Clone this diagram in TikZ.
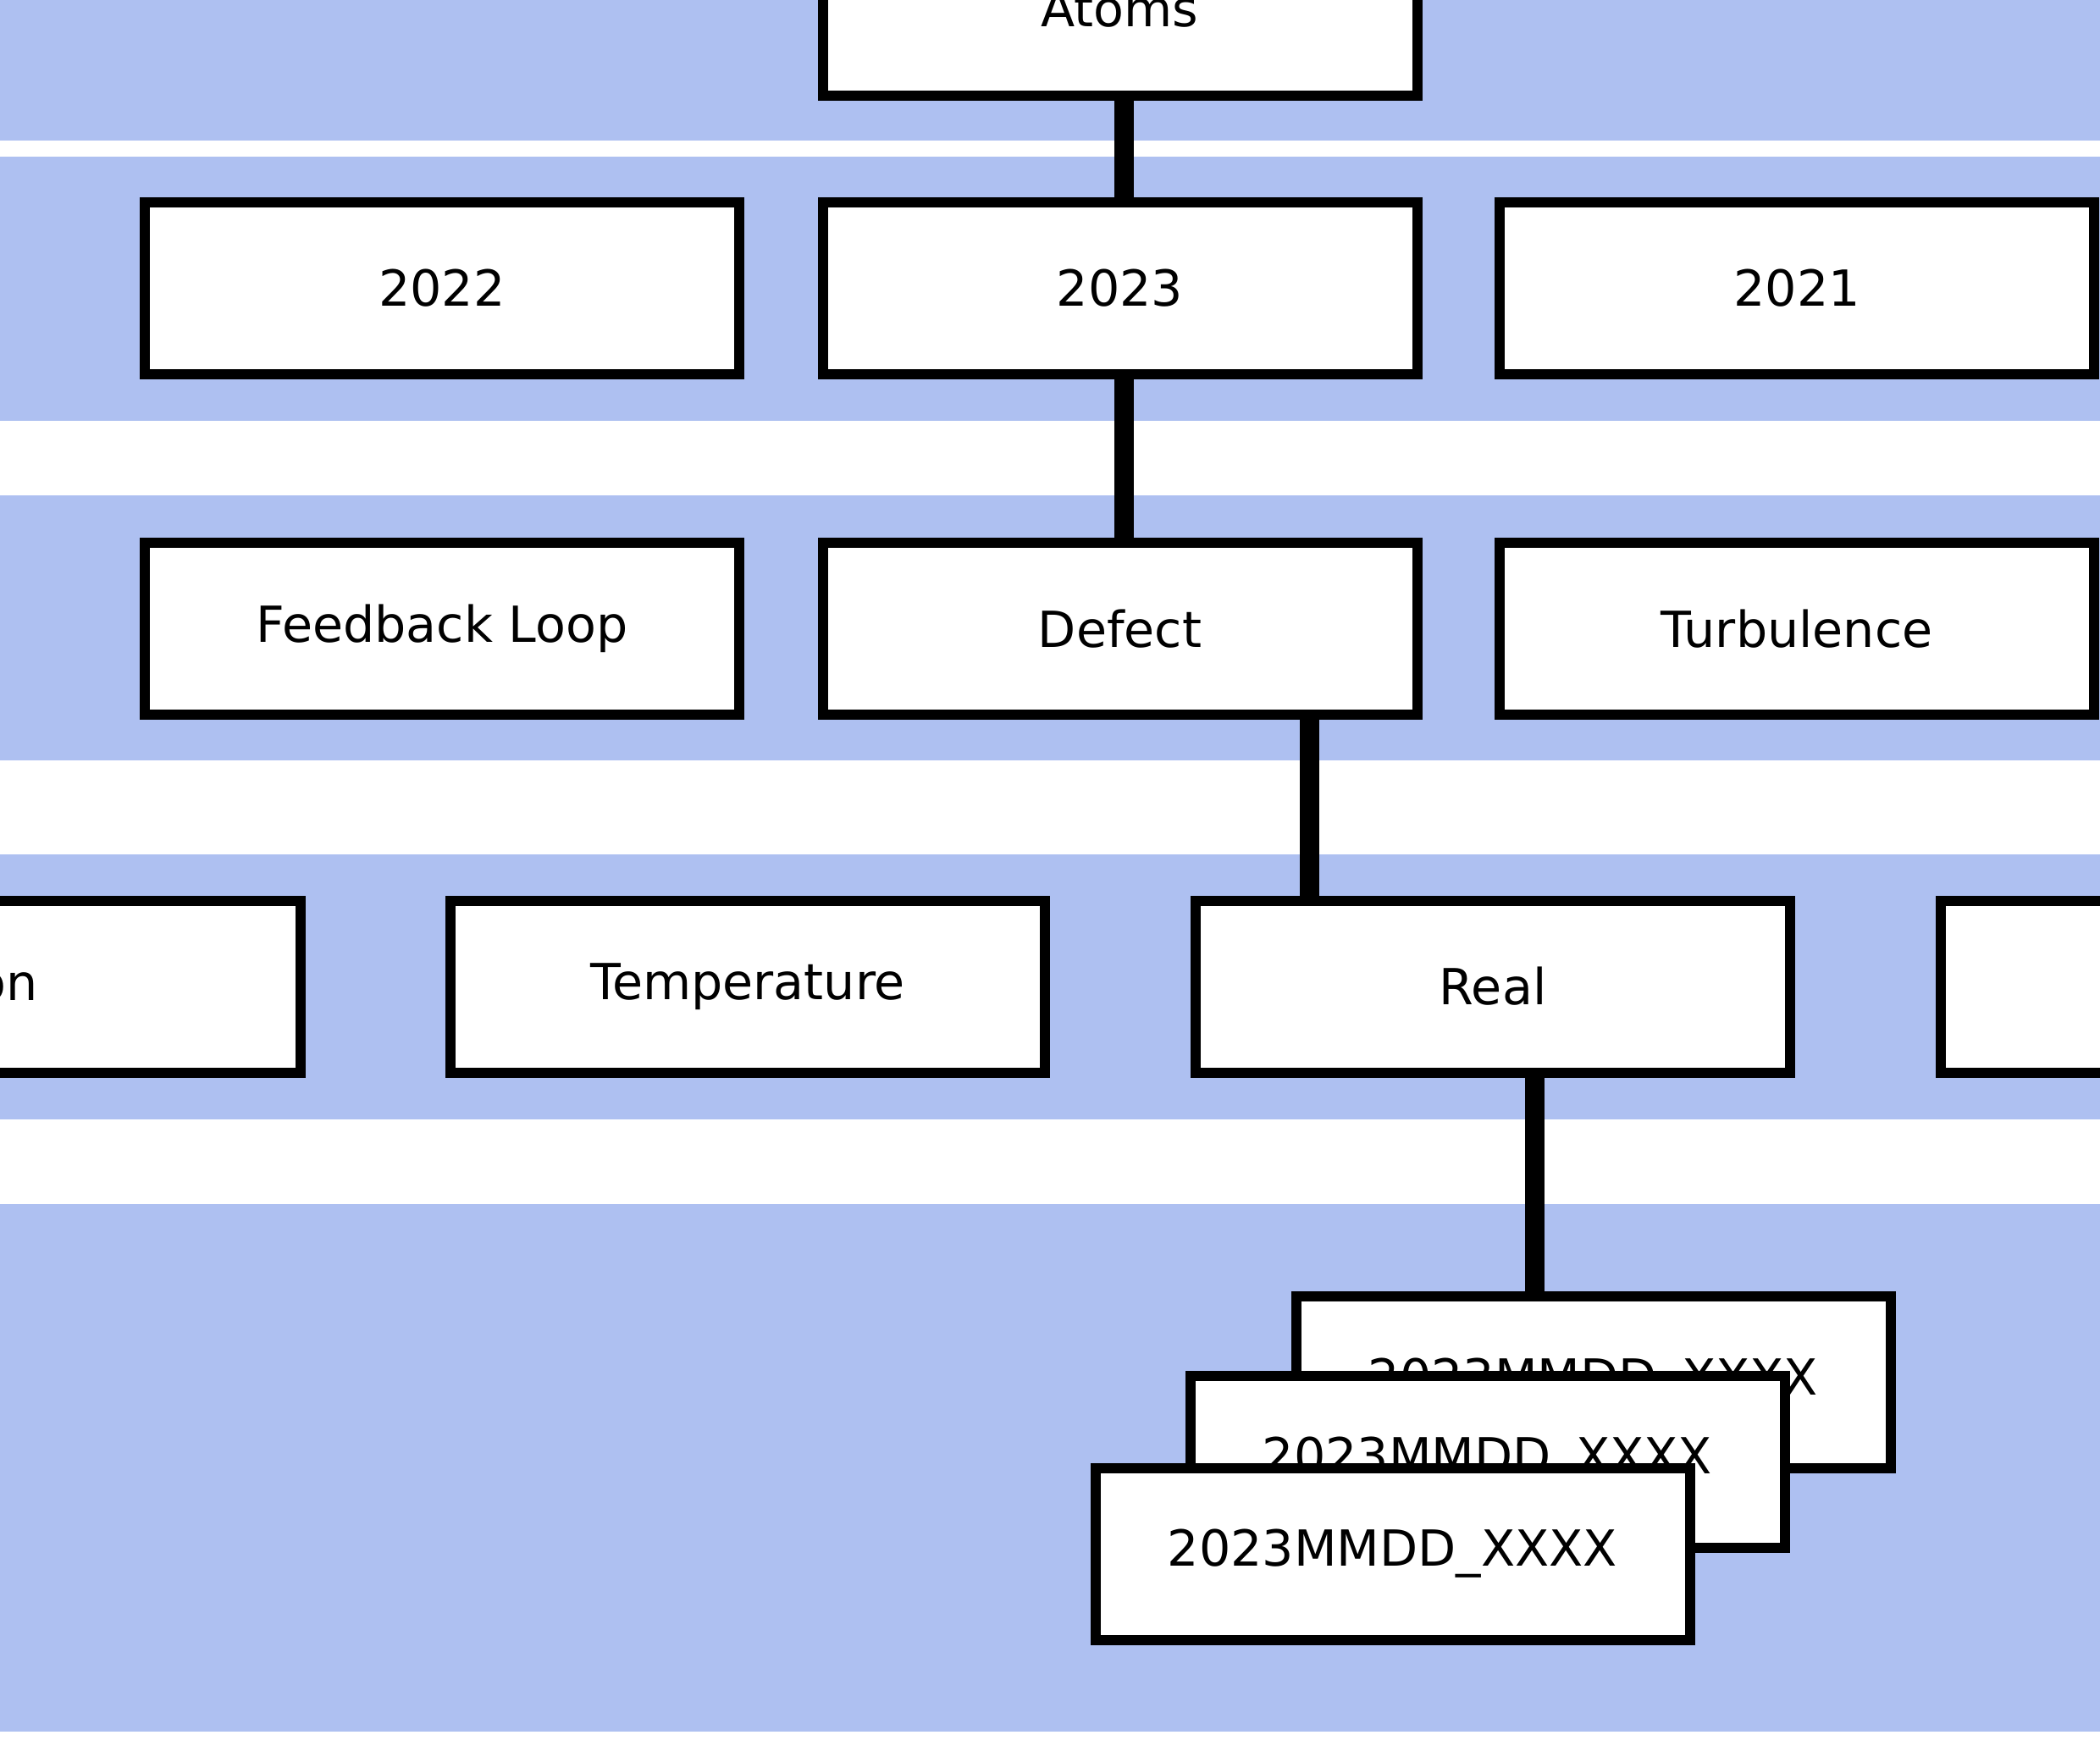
\documentclass[tikz,border=0pt]{standalone}
\usepackage{fontspec}
\setmainfont{DejaVu Sans}
\usepackage{xcolor}
\definecolor{bandblue}{RGB}{174,192,241}

\begin{document}
\begin{tikzpicture}[
    box/.style={draw=black, line width=0.12cm, fill=white, inner sep=0pt,
        minimum width=7.02cm, minimum height=2.03cm,
        font=\fontsize{16.7}{20}\selectfont},
    link/.style={draw=black, line width=0.23cm}
]
    \useasboundingbox (0,0) rectangle (24.8,-20.61);
    \clip (0,0) rectangle (24.8,-20.61);
    % Bands
    \fill[bandblue] (0,0.2) rectangle (24.8,-1.66);
    \fill[bandblue] (0,-1.85) rectangle (24.8,-4.97);
    \fill[bandblue] (0,-5.85) rectangle (24.8,-8.98);
    \fill[bandblue] (0,-10.09) rectangle (24.8,-13.22);
    \fill[bandblue] (0,-14.22) rectangle (24.8,-20.45);
    % Boxes
    \node[box] (atoms) at (13.225,-0.11) {Atoms};
    \node[box] (y2022) at (5.22,-3.405) {2022};
    \node[box] (y2023) at (13.225,-3.405) {2023};
    \node[box] (y2021) at (21.22,-3.405) {2021};
    \node[box] (loop) at (5.22,-7.425) {Feedback Loop};
    \node[box] (defect) at (13.225,-7.425) {Defect};
    \node[box] (turb) at (21.22,-7.425) {Turbulence};
    \node[box] (lefton) at (0.035,-11.65) {\hspace*{0.1cm}on};
    \node[box] (temp) at (8.83,-11.65) {Temperature};
    \node[box] (real) at (17.63,-11.65) {Real};
    \node[box] (rightbox) at (26.43,-11.65) {};
    % Links
    \draw[link] ([xshift=0.05cm]atoms.south) -- ([xshift=0.05cm]atoms.south |- y2023.north);
    \draw[link] ([xshift=0.05cm]y2023.south) -- ([xshift=0.05cm]y2023.south |- defect.north);
    \draw[link] ([xshift=2.242cm]defect.south) -- ([xshift=2.242cm]defect.south |- real.north);
    \coordinate (sheettop) at (18.815,-15.25);
    \draw[link] ([xshift=0.495cm]real.south) -- ([xshift=0.495cm]real.south |- sheettop);
    % Stacked runs
    \node[box] (sheetA) at (18.815,-16.325) {2023MMDD\_XXXX};
    \node[box] (sheetB) at (17.565,-17.26) {2023MMDD\_XXXX};
    \node[box] (sheetC) at (16.445,-18.35) {2023MMDD\_XXXX};
\end{tikzpicture}
\end{document}
